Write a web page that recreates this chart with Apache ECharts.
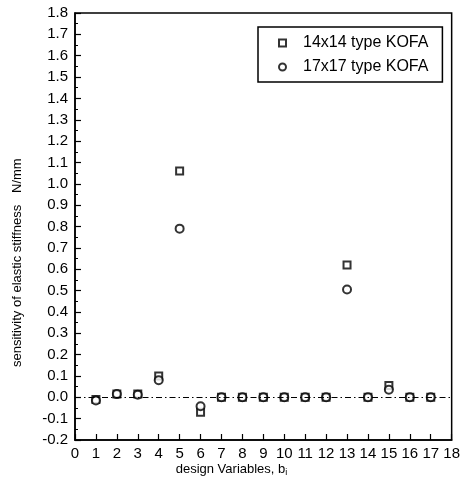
<!DOCTYPE html>
<html><head><meta charset="utf-8">
<script src="https://cdn.jsdelivr.net/npm/echarts@6/dist/echarts.min.js"></script>
<style>html,body{margin:0;padding:0;background:#fff}#c{width:463px;height:492px}</style>
</head><body><div id="c"></div>
<script>
const designVars = [1,2,3,4,5,6,7,8,9,10,11,12,13,14,15,16,17];
const kofa14 = [-0.01,0.015,0.015,0.10,1.06,-0.07,0.0,0.0,0.0,0.0,0.0,0.0,0.62,0.0,0.055,0.0,0.0];
const kofa17 = [-0.015,0.015,0.012,0.08,0.79,-0.042,0.0,0.0,0.0,0.0,0.0,0.0,0.505,0.0,0.035,0.0,0.0];
const seriesNames = ['14x14 type KOFA','17x17 type KOFA'];

const F = 'Liberation Sans, Arial, sans-serif';
const chart = echarts.init(document.getElementById('c'));
chart.setOption({
  animation:false,
  backgroundColor:'#fff',
  grid:{left:75,right:11,top:13,bottom:52,show:true,borderColor:'#000',borderWidth:1.5,backgroundColor:'transparent'},
  legend:{
    left:258, top:27, orient:'vertical', itemGap:8,
    borderColor:'#000', borderWidth:1.5, padding:[8,14,7,20],
    itemWidth:7, itemHeight:7,
    textStyle:{fontFamily:F,fontSize:16,color:'#000',padding:[0,0,0,12]},
    data:[{name:seriesNames[0],icon:'emptyRect'},{name:seriesNames[1],icon:'emptyCircle'}]
  },
  xAxis:{type:'value',min:0,max:18,interval:1,
    axisLine:{show:true,onZero:false,lineStyle:{color:'#000',width:1.5}},
    axisTick:{show:true,inside:true,length:6,lineStyle:{color:'#000',width:1.2}},
    axisLabel:{fontFamily:F,fontSize:15,color:'#000',margin:6},
    splitLine:{show:false}},
  yAxis:{type:'value',min:-0.2,max:1.8,interval:0.1,
    axisLine:{show:true,onZero:false,lineStyle:{color:'#000',width:1.5}},
    axisTick:{show:true,inside:true,length:6,lineStyle:{color:'#000',width:1.2}},
    minorTick:{show:true,splitNumber:2,length:3,lineStyle:{color:'#000',width:1}},
    axisLabel:{fontFamily:F,fontSize:15,color:'#000',margin:7,formatter:v=>v.toFixed(1)},
    splitLine:{show:false}},
  graphic:[
    {type:'text',left:'center',top:463,x:27,style:{rich:{n:{fontFamily:F,fontSize:13,fill:'#000'},s:{fontFamily:F,fontSize:9,fill:'#000',padding:[7,0,0,0]}},text:'{n|design Variables, b}{s|i}',fill:'#000'}},
    {type:'text',x:11,y:367,rotation:Math.PI/2,style:{text:'sensitivity of elastic stiffness',fontFamily:F,fontSize:13,fill:'#000'}},
    {type:'text',x:11,y:193,rotation:Math.PI/2,style:{text:'N/mm',fontFamily:F,fontSize:13,fill:'#000'}}
  ],
  series:[
    {name:seriesNames[0],type:'scatter',symbol:'emptyRect',symbolSize:7,
      itemStyle:{color:'#000',borderWidth:1.5},
      data:designVars.map((x,i)=>[x,kofa14[i]]),
      markLine:{silent:true,symbol:'none',label:{show:false},
        lineStyle:{color:'#000',width:1,type:[6,3,1.5,3]},
        data:[{yAxis:0}]},
      z:3},
    {name:seriesNames[1],type:'scatter',symbol:'emptyCircle',symbolSize:8,
      itemStyle:{color:'#000',borderWidth:1.5},
      data:designVars.map((x,i)=>[x,kofa17[i]]),z:4}
  ]
});
</script></body></html>
